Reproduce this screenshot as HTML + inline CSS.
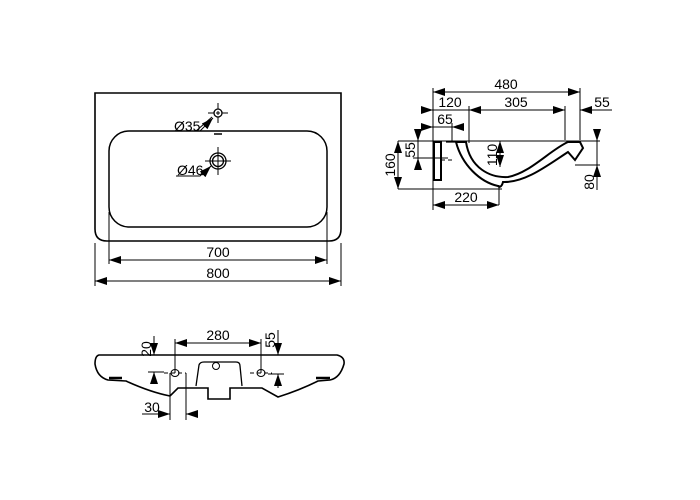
<!DOCTYPE html>
<html><head><style>
html,body{margin:0;padding:0;background:#fff;}
svg{display:block;}
text{font-family:"Liberation Sans",Arial,sans-serif;font-size:14px;fill:#000;}
</style></head><body>
<svg width="700" height="500" viewBox="0 0 700 500" xmlns="http://www.w3.org/2000/svg">
<defs>
<marker id="a" viewBox="0 0 12 8" refX="12" refY="4" markerWidth="12" markerHeight="8" orient="auto-start-reverse" markerUnits="userSpaceOnUse"><path d="M0,0 L12,4 L0,8z" fill="#000"/></marker>
</defs>
<g fill="none" stroke="#000" stroke-width="1.3">
<!-- top view -->
<path d="M95,93 H341 V229 Q341,241 329,241 H107 Q95,241 95,229 Z" stroke-width="1.6"/>
<rect x="109" y="131" width="218" height="96" rx="20" stroke-width="1.5"/>
<circle cx="218" cy="113" r="4"/>
<path d="M208,113 h6 M222,113 h6 M218,103 v6 M218,117 v6 M216,113 h4 M218,111 v4" stroke-width="1"/>
<path d="M214,134 h8" stroke-width="1.5"/>
<circle cx="218" cy="161" r="8"/><circle cx="218" cy="161" r="5.5"/>
<path d="M205,161 h26 M218,147 v28" stroke-width="1"/>
<path d="M172,131 H196 L212,117" stroke-width="1"/>
<path d="M200,131 L213,118" marker-end="url(#a)" stroke-width="1"/>
<path d="M176,176 H200 L210,167" stroke-width="1"/>
<path d="M202,175 L211,166" marker-end="url(#a)" stroke-width="1"/>
<path d="M109,212 V264 M327,212 V264 M95,243 V286 M341,243 V286" stroke-width="1"/>
<path d="M109,260 H327" marker-start="url(#a)" marker-end="url(#a)" stroke-width="1"/>
<path d="M95,281 H341" marker-start="url(#a)" marker-end="url(#a)" stroke-width="1"/>

<!-- side view -->
<g stroke-width="1">
<path d="M433,88 V210 M580,88 V140 M469,106 V143 M565,106 V140 M452,123 V141 M398,141 H600 M398,189 H502 M413,158 H448 M499,205 V185 M575,165 H600"/>
<path d="M433,92 H580" marker-start="url(#a)" marker-end="url(#a)"/>
<path d="M421,110 H433" marker-end="url(#a)"/><path d="M433,110 H469"/>
<path d="M469,110 H565" marker-start="url(#a)" marker-end="url(#a)"/>
<path d="M592,110 H580" marker-end="url(#a)"/><path d="M580,110 H612"/>
<path d="M421,127 H433" marker-end="url(#a)"/><path d="M464,127 H452" marker-end="url(#a)"/><path d="M433,127 H452"/>
<path d="M398,141 V189" marker-start="url(#a)" marker-end="url(#a)"/>
<path d="M418,129 V141" marker-end="url(#a)"/><path d="M418,170 V158" marker-end="url(#a)"/><path d="M418,141 V158"/>
<path d="M500,141 V167" marker-start="url(#a)" marker-end="url(#a)"/>
<path d="M433,205 H499" marker-start="url(#a)" marker-end="url(#a)"/>
<path d="M597,129 V141" marker-end="url(#a)"/><path d="M597,190 V165" marker-end="url(#a)"/><path d="M597,141 V165"/>
</g>
<path d="M434,142 H441 V180 H434 Z" stroke-width="2"/>
<path d="M446,142 H456 M459,142 H466"/>
<path d="M456,142 C462,165 480,182 498,186 C500,188 502,186 503,182 C525,183 548,165 568,152 L575,160 L583,148 L580,142 H568 C550,150 530,173 508,177 C490,178 470,168 466,142 Z" stroke-width="2"/>
<path d="M441,160 H455" stroke-dasharray="4 3" stroke-width="1"/>

<!-- front view -->
<path d="M99,355 H337 Q345,357 344,364 Q340,378 330,380 L318,381 Q300,390 278,397 L262,388 H230 V399 H208 V388 H178 L170,396 Q150,392 126,381 L108,380 Q97,377 95,364 Q95,356 99,355 Z" stroke-width="1.6"/>
<path d="M196,386 L199,365 Q200,362 204,362 H236 Q240,362 240,366 L242,386" stroke-width="1.3"/>
<circle cx="216" cy="366" r="3.5" stroke-width="1"/>
<path d="M109,378 H122 M316,378 H330" stroke-width="2.5"/>
<ellipse cx="175" cy="373" rx="4" ry="3.5" stroke-width="1"/>
<ellipse cx="261" cy="373" rx="4" ry="3.5" stroke-width="1"/>
<g stroke-width="1">
<path d="M164,373 H186 M250,373 H272" stroke-dasharray="4 3"/>
<path d="M175,339 V373 M261,339 V373 M170,373 V420 M186,373 V420"/>
<path d="M175,343 H261" marker-start="url(#a)" marker-end="url(#a)"/>
<path d="M154,336 V355" marker-end="url(#a)"/>
<path d="M154,384 V372" marker-end="url(#a)"/>
<path d="M148,372 H164"/>
<path d="M278,330 V355" marker-end="url(#a)"/>
<path d="M278,388 V374" marker-end="url(#a)"/>
<path d="M268,374 H284"/>
<path d="M142,414 H170" marker-end="url(#a)"/>
<path d="M198,414 H186" marker-end="url(#a)"/>
</g>
</g>
<text x="174" y="131">Ø35</text>
<text x="177" y="175">Ø46</text>
<text x="218" y="257" text-anchor="middle">700</text>
<text x="218" y="278" text-anchor="middle">800</text>
<text x="506" y="89" text-anchor="middle">480</text>
<text x="450" y="107" text-anchor="middle">120</text>
<text x="516" y="107" text-anchor="middle">305</text>
<text x="602" y="107" text-anchor="middle">55</text>
<text x="445" y="124" text-anchor="middle">65</text>
<text x="466" y="202" text-anchor="middle">220</text>
<text transform="translate(395,165) rotate(-90)" text-anchor="middle">160</text>
<text transform="translate(415,150) rotate(-90)" text-anchor="middle">55</text>
<text transform="translate(497,155) rotate(-90)" text-anchor="middle">110</text>
<text transform="translate(594,182) rotate(-90)" text-anchor="middle">80</text>
<text x="218" y="340" text-anchor="middle">280</text>
<text transform="translate(151,349) rotate(-90)" text-anchor="middle">20</text>
<text transform="translate(275,340) rotate(-90)" text-anchor="middle">55</text>
<text x="152" y="412" text-anchor="middle">30</text>
</svg>
</body></html>
